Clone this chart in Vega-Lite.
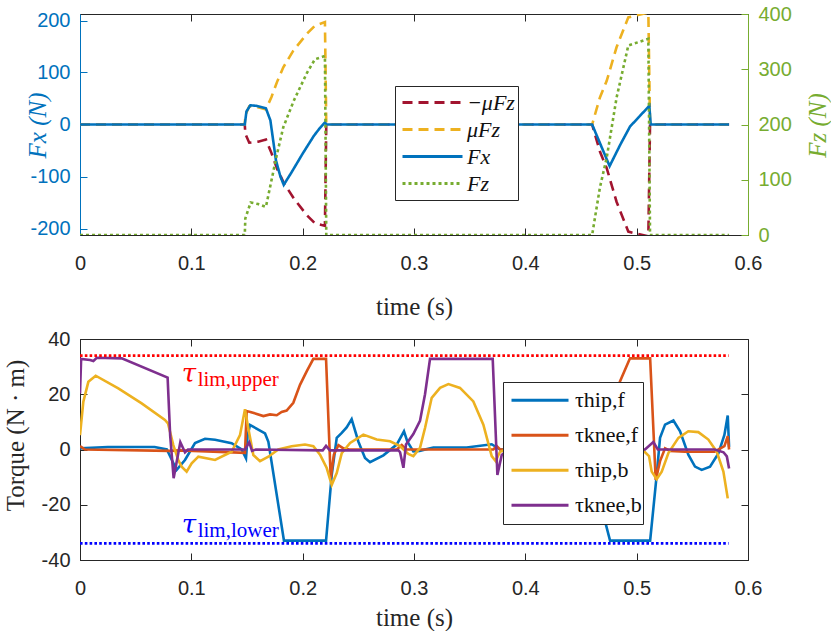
{
  "$schema": "https://vega.github.io/schema/vega-lite/v6.json",
  "padding": {"left": 2, "top": 3, "right": 1, "bottom": 0},
  "background": "white",
  "datasets": {
    "force": [
      {"t": 0, "s": "−μFz", "v": 0}, {"t": 0.148, "s": "−μFz", "v": 0}, {"t": 0.1485, "s": "−μFz", "v": -18},
      {"t": 0.152, "s": "−μFz", "v": -35}, {"t": 0.16, "s": "−μFz", "v": -33}, {"t": 0.167, "s": "−μFz", "v": -29},
      {"t": 0.172, "s": "−μFz", "v": -55}, {"t": 0.177, "s": "−μFz", "v": -85}, {"t": 0.183, "s": "−μFz", "v": -112},
      {"t": 0.192, "s": "−μFz", "v": -142}, {"t": 0.2036, "s": "−μFz", "v": -174}, {"t": 0.211, "s": "−μFz", "v": -190},
      {"t": 0.22, "s": "−μFz", "v": -195}, {"t": 0.2212, "s": "−μFz", "v": 0}, {"t": 0.46, "s": "−μFz", "v": 0},
      {"t": 0.467, "s": "−μFz", "v": -52}, {"t": 0.4731, "s": "−μFz", "v": -84}, {"t": 0.482, "s": "−μFz", "v": -149},
      {"t": 0.4925, "s": "−μFz", "v": -206}, {"t": 0.5, "s": "−μFz", "v": -210}, {"t": 0.5105, "s": "−μFz", "v": -215},
      {"t": 0.512, "s": "−μFz", "v": 0}, {"t": 0.583, "s": "−μFz", "v": 0},

      {"t": 0, "s": "μFz", "v": 0}, {"t": 0.148, "s": "μFz", "v": 0}, {"t": 0.1485, "s": "μFz", "v": 18},
      {"t": 0.152, "s": "μFz", "v": 35}, {"t": 0.16, "s": "μFz", "v": 33}, {"t": 0.167, "s": "μFz", "v": 29},
      {"t": 0.172, "s": "μFz", "v": 53}, {"t": 0.177, "s": "μFz", "v": 82}, {"t": 0.1826, "s": "μFz", "v": 110},
      {"t": 0.1916, "s": "μFz", "v": 142}, {"t": 0.2036, "s": "μFz", "v": 174}, {"t": 0.211, "s": "μFz", "v": 190},
      {"t": 0.22, "s": "μFz", "v": 197}, {"t": 0.2212, "s": "μFz", "v": 0}, {"t": 0.46, "s": "μFz", "v": 0},
      {"t": 0.467, "s": "μFz", "v": 52}, {"t": 0.4731, "s": "μFz", "v": 84}, {"t": 0.482, "s": "μFz", "v": 149},
      {"t": 0.4925, "s": "μFz", "v": 206}, {"t": 0.5, "s": "μFz", "v": 210}, {"t": 0.5105, "s": "μFz", "v": 215},
      {"t": 0.512, "s": "μFz", "v": 0}, {"t": 0.583, "s": "μFz", "v": 0},

      {"t": 0, "s": "Fx", "v": 0}, {"t": 0.148, "s": "Fx", "v": 0}, {"t": 0.1495, "s": "Fx", "v": 25},
      {"t": 0.153, "s": "Fx", "v": 37}, {"t": 0.158, "s": "Fx", "v": 36}, {"t": 0.167, "s": "Fx", "v": 31},
      {"t": 0.171, "s": "Fx", "v": 8}, {"t": 0.176, "s": "Fx", "v": -69}, {"t": 0.18, "s": "Fx", "v": -100},
      {"t": 0.183, "s": "Fx", "v": -116}, {"t": 0.19, "s": "Fx", "v": -92}, {"t": 0.2, "s": "Fx", "v": -56},
      {"t": 0.21, "s": "Fx", "v": -22}, {"t": 0.215, "s": "Fx", "v": -8}, {"t": 0.22, "s": "Fx", "v": 4},
      {"t": 0.2215, "s": "Fx", "v": 0}, {"t": 0.46, "s": "Fx", "v": 0}, {"t": 0.4757, "s": "Fx", "v": -80},
      {"t": 0.485, "s": "Fx", "v": -40}, {"t": 0.494, "s": "Fx", "v": -4}, {"t": 0.5114, "s": "Fx", "v": 36},
      {"t": 0.5126, "s": "Fx", "v": 0}, {"t": 0.583, "s": "Fx", "v": 0},

      {"t": 0, "s": "Fz", "v": 0}, {"t": 0.148, "s": "Fz", "v": 0}, {"t": 0.1485, "s": "Fz", "v": 30},
      {"t": 0.1533, "s": "Fz", "v": 59}, {"t": 0.16, "s": "Fz", "v": 56}, {"t": 0.167, "s": "Fz", "v": 51},
      {"t": 0.177, "s": "Fz", "v": 147}, {"t": 0.1826, "s": "Fz", "v": 195}, {"t": 0.192, "s": "Fz", "v": 243},
      {"t": 0.204, "s": "Fz", "v": 294}, {"t": 0.211, "s": "Fz", "v": 318}, {"t": 0.22, "s": "Fz", "v": 324},
      {"t": 0.2212, "s": "Fz", "v": 0}, {"t": 0.46, "s": "Fz", "v": 0}, {"t": 0.467, "s": "Fz", "v": 86},
      {"t": 0.4731, "s": "Fz", "v": 140}, {"t": 0.482, "s": "Fz", "v": 249}, {"t": 0.4925, "s": "Fz", "v": 343},
      {"t": 0.5105, "s": "Fz", "v": 355}, {"t": 0.512, "s": "Fz", "v": 0}, {"t": 0.583, "s": "Fz", "v": 0}
    ],
    "torque": [
      {"t": 0, "s": "τhip,f", "v": 0.4}, {"t": 0.025, "s": "τhip,f", "v": 0.9}, {"t": 0.067, "s": "τhip,f", "v": 0.9},
      {"t": 0.078, "s": "τhip,f", "v": 0}, {"t": 0.0868, "s": "τhip,f", "v": -7.4}, {"t": 0.0943, "s": "τhip,f", "v": -3.8},
      {"t": 0.1033, "s": "τhip,f", "v": 2.3}, {"t": 0.1123, "s": "τhip,f", "v": 3.9}, {"t": 0.1213, "s": "τhip,f", "v": 3.5},
      {"t": 0.1362, "s": "τhip,f", "v": 2.3}, {"t": 0.1452, "s": "τhip,f", "v": 0}, {"t": 0.1491, "s": "τhip,f", "v": -3.2},
      {"t": 0.1505, "s": "τhip,f", "v": 5}, {"t": 0.1527, "s": "τhip,f", "v": 8.9}, {"t": 0.1662, "s": "τhip,f", "v": 5.8},
      {"t": 0.1692, "s": "τhip,f", "v": 2.8}, {"t": 0.1832, "s": "τhip,f", "v": -33}, {"t": 0.221, "s": "τhip,f", "v": -33},
      {"t": 0.2261, "s": "τhip,f", "v": -9.2}, {"t": 0.2306, "s": "τhip,f", "v": 4.2}, {"t": 0.2351, "s": "τhip,f", "v": 6},
      {"t": 0.2395, "s": "τhip,f", "v": 8}, {"t": 0.244, "s": "τhip,f", "v": 11}, {"t": 0.25, "s": "τhip,f", "v": 2.9},
      {"t": 0.256, "s": "τhip,f", "v": -3.1}, {"t": 0.2605, "s": "τhip,f", "v": -4.6}, {"t": 0.2725, "s": "τhip,f", "v": -2.1},
      {"t": 0.2845, "s": "τhip,f", "v": 1.8}, {"t": 0.291, "s": "τhip,f", "v": 6.6}, {"t": 0.294, "s": "τhip,f", "v": 2.9},
      {"t": 0.2994, "s": "τhip,f", "v": -0.7}, {"t": 0.305, "s": "τhip,f", "v": -0.5}, {"t": 0.3174, "s": "τhip,f", "v": 0.7},
      {"t": 0.3473, "s": "τhip,f", "v": 0.7}, {"t": 0.3698, "s": "τhip,f", "v": 1.9}, {"t": 0.3773, "s": "τhip,f", "v": 0},
      {"t": 0.4, "s": "τhip,f", "v": 0}, {"t": 0.44, "s": "τhip,f", "v": 0.5}, {"t": 0.458, "s": "τhip,f", "v": 1},
      {"t": 0.464, "s": "τhip,f", "v": -6}, {"t": 0.4716, "s": "τhip,f", "v": -26}, {"t": 0.4761, "s": "τhip,f", "v": -33},
      {"t": 0.5121, "s": "τhip,f", "v": -33}, {"t": 0.518, "s": "τhip,f", "v": -9.2}, {"t": 0.521, "s": "τhip,f", "v": 4.2},
      {"t": 0.5255, "s": "τhip,f", "v": 9}, {"t": 0.533, "s": "τhip,f", "v": 10.5}, {"t": 0.539, "s": "τhip,f", "v": 6.6},
      {"t": 0.5464, "s": "τhip,f", "v": -1.9}, {"t": 0.5524, "s": "τhip,f", "v": -6.2}, {"t": 0.5584, "s": "τhip,f", "v": -7.4},
      {"t": 0.5659, "s": "τhip,f", "v": -6.2}, {"t": 0.5734, "s": "τhip,f", "v": -1.4}, {"t": 0.5788, "s": "τhip,f", "v": 5.3},
      {"t": 0.5818, "s": "τhip,f", "v": 12.3}, {"t": 0.583, "s": "τhip,f", "v": 1},

      {"t": 0, "s": "τknee,f", "v": 1.2}, {"t": 0.0045, "s": "τknee,f", "v": 0}, {"t": 0.08, "s": "τknee,f", "v": -0.5},
      {"t": 0.09, "s": "τknee,f", "v": -0.3}, {"t": 0.1482, "s": "τknee,f", "v": -1.2}, {"t": 0.1497, "s": "τknee,f", "v": 13.9},
      {"t": 0.153, "s": "τknee,f", "v": 13.6}, {"t": 0.1647, "s": "τknee,f", "v": 12.1}, {"t": 0.1707, "s": "τknee,f", "v": 12.7},
      {"t": 0.1767, "s": "τknee,f", "v": 12.4}, {"t": 0.1811, "s": "τknee,f", "v": 13.6}, {"t": 0.1856, "s": "τknee,f", "v": 14.1},
      {"t": 0.1916, "s": "τknee,f", "v": 16.9}, {"t": 0.1976, "s": "τknee,f", "v": 23.4}, {"t": 0.2036, "s": "τknee,f", "v": 28.3},
      {"t": 0.2096, "s": "τknee,f", "v": 32.8}, {"t": 0.221, "s": "τknee,f", "v": 32.8}, {"t": 0.2252, "s": "τknee,f", "v": -10.4},
      {"t": 0.228, "s": "τknee,f", "v": -1.9}, {"t": 0.2321, "s": "τknee,f", "v": 1.6}, {"t": 0.2366, "s": "τknee,f", "v": 0.4},
      {"t": 0.242, "s": "τknee,f", "v": 0}, {"t": 0.2845, "s": "τknee,f", "v": 0}, {"t": 0.289, "s": "τknee,f", "v": 1.6},
      {"t": 0.293, "s": "τknee,f", "v": 0}, {"t": 0.3713, "s": "τknee,f", "v": 0}, {"t": 0.3743, "s": "τknee,f", "v": 1.2},
      {"t": 0.3773, "s": "τknee,f", "v": 0}, {"t": 0.46, "s": "τknee,f", "v": 0}, {"t": 0.4605, "s": "τknee,f", "v": 13},
      {"t": 0.47, "s": "τknee,f", "v": 12.5}, {"t": 0.477, "s": "τknee,f", "v": 15}, {"t": 0.485, "s": "τknee,f", "v": 24.6},
      {"t": 0.494, "s": "τknee,f", "v": 33}, {"t": 0.5121, "s": "τknee,f", "v": 33}, {"t": 0.5171, "s": "τknee,f", "v": -11},
      {"t": 0.521, "s": "τknee,f", "v": -4.2}, {"t": 0.5255, "s": "τknee,f", "v": 0.4}, {"t": 0.53, "s": "τknee,f", "v": -0.5},
      {"t": 0.5434, "s": "τknee,f", "v": -0.8}, {"t": 0.57, "s": "τknee,f", "v": -0.8}, {"t": 0.5788, "s": "τknee,f", "v": 1.2},
      {"t": 0.5818, "s": "τknee,f", "v": 4.8}, {"t": 0.583, "s": "τknee,f", "v": 0},

      {"t": 0, "s": "τhip,b", "v": 5.2}, {"t": 0.003, "s": "τhip,b", "v": 17.3}, {"t": 0.0075, "s": "τhip,b", "v": 24.5},
      {"t": 0.0141, "s": "τhip,b", "v": 26.7}, {"t": 0.0344, "s": "τhip,b", "v": 22.1}, {"t": 0.0554, "s": "τhip,b", "v": 16.7},
      {"t": 0.0763, "s": "τhip,b", "v": 10.7}, {"t": 0.079, "s": "τhip,b", "v": 9.5}, {"t": 0.0838, "s": "τhip,b", "v": 1.6},
      {"t": 0.0883, "s": "τhip,b", "v": -3.8}, {"t": 0.0913, "s": "τhip,b", "v": -6.2}, {"t": 0.0958, "s": "τhip,b", "v": -8},
      {"t": 0.1003, "s": "τhip,b", "v": -5}, {"t": 0.1063, "s": "τhip,b", "v": -2.6}, {"t": 0.1213, "s": "τhip,b", "v": -3.8},
      {"t": 0.1362, "s": "τhip,b", "v": -0.8}, {"t": 0.1437, "s": "τhip,b", "v": 5.2}, {"t": 0.1482, "s": "τhip,b", "v": 14.6},
      {"t": 0.1512, "s": "τhip,b", "v": 7.6}, {"t": 0.1557, "s": "τhip,b", "v": -2}, {"t": 0.1617, "s": "τhip,b", "v": -4.2},
      {"t": 0.1692, "s": "τhip,b", "v": -2.6}, {"t": 0.1781, "s": "τhip,b", "v": 0}, {"t": 0.1901, "s": "τhip,b", "v": 1.2},
      {"t": 0.2021, "s": "τhip,b", "v": 1.8}, {"t": 0.2096, "s": "τhip,b", "v": 1.2}, {"t": 0.2156, "s": "τhip,b", "v": -1.9},
      {"t": 0.2216, "s": "τhip,b", "v": -6.7}, {"t": 0.2261, "s": "τhip,b", "v": -12.8}, {"t": 0.2306, "s": "τhip,b", "v": -8.5},
      {"t": 0.2351, "s": "τhip,b", "v": -1.3}, {"t": 0.2426, "s": "τhip,b", "v": 2.4}, {"t": 0.2545, "s": "τhip,b", "v": 5.4},
      {"t": 0.2665, "s": "τhip,b", "v": 3.6}, {"t": 0.2785, "s": "τhip,b", "v": 3}, {"t": 0.2875, "s": "τhip,b", "v": 1.2},
      {"t": 0.2949, "s": "τhip,b", "v": -1.6}, {"t": 0.2994, "s": "τhip,b", "v": -2.4}, {"t": 0.3054, "s": "τhip,b", "v": 0.6},
      {"t": 0.3099, "s": "τhip,b", "v": 7.8}, {"t": 0.3159, "s": "τhip,b", "v": 18.7}, {"t": 0.3234, "s": "τhip,b", "v": 22.3},
      {"t": 0.3309, "s": "τhip,b", "v": 23.7}, {"t": 0.3413, "s": "τhip,b", "v": 22.3}, {"t": 0.3533, "s": "τhip,b", "v": 17.4},
      {"t": 0.3623, "s": "τhip,b", "v": 9}, {"t": 0.3698, "s": "τhip,b", "v": -2.4}, {"t": 0.3733, "s": "τhip,b", "v": -4.2},
      {"t": 0.3773, "s": "τhip,b", "v": -0.8}, {"t": 0.39, "s": "τhip,b", "v": 1}, {"t": 0.42, "s": "τhip,b", "v": 2},
      {"t": 0.46, "s": "τhip,b", "v": 1.5}, {"t": 0.49, "s": "τhip,b", "v": 1}, {"t": 0.505, "s": "τhip,b", "v": 0},
      {"t": 0.5111, "s": "τhip,b", "v": -2.4}, {"t": 0.5135, "s": "τhip,b", "v": -8}, {"t": 0.518, "s": "τhip,b", "v": -10.7},
      {"t": 0.5225, "s": "τhip,b", "v": -8}, {"t": 0.5285, "s": "τhip,b", "v": -1.3}, {"t": 0.5375, "s": "τhip,b", "v": 4.2},
      {"t": 0.5464, "s": "τhip,b", "v": 6.6}, {"t": 0.5554, "s": "τhip,b", "v": 6.3}, {"t": 0.5644, "s": "τhip,b", "v": 3.6},
      {"t": 0.5719, "s": "τhip,b", "v": -0.8}, {"t": 0.5779, "s": "τhip,b", "v": -8}, {"t": 0.5818, "s": "τhip,b", "v": -17.7},

      {"t": 0, "s": "τknee,b", "v": 20.3}, {"t": 0.001, "s": "τknee,b", "v": 32.8}, {"t": 0.009, "s": "τknee,b", "v": 32.4},
      {"t": 0.012, "s": "τknee,b", "v": 32}, {"t": 0.015, "s": "τknee,b", "v": 33.2}, {"t": 0.0375, "s": "τknee,b", "v": 33},
      {"t": 0.0787, "s": "τknee,b", "v": 26}, {"t": 0.081, "s": "τknee,b", "v": 5}, {"t": 0.0841, "s": "τknee,b", "v": -10.4},
      {"t": 0.0901, "s": "τknee,b", "v": 2.6}, {"t": 0.0943, "s": "τknee,b", "v": -1}, {"t": 0.097, "s": "τknee,b", "v": 0},
      {"t": 0.1482, "s": "τknee,b", "v": 0}, {"t": 0.152, "s": "τknee,b", "v": 2.6}, {"t": 0.1545, "s": "τknee,b", "v": -0.5},
      {"t": 0.158, "s": "τknee,b", "v": 0}, {"t": 0.218, "s": "τknee,b", "v": -0.3}, {"t": 0.221, "s": "τknee,b", "v": 1.3},
      {"t": 0.2245, "s": "τknee,b", "v": -0.3}, {"t": 0.286, "s": "τknee,b", "v": -0.3}, {"t": 0.2875, "s": "τknee,b", "v": -1},
      {"t": 0.2905, "s": "τknee,b", "v": -6.6}, {"t": 0.2928, "s": "τknee,b", "v": 1.8}, {"t": 0.2994, "s": "τknee,b", "v": 5.6},
      {"t": 0.3054, "s": "τknee,b", "v": 10.4}, {"t": 0.3099, "s": "τknee,b", "v": 20}, {"t": 0.3144, "s": "τknee,b", "v": 32.8},
      {"t": 0.3707, "s": "τknee,b", "v": 32.8}, {"t": 0.3749, "s": "τknee,b", "v": -9.2}, {"t": 0.3788, "s": "τknee,b", "v": -2},
      {"t": 0.385, "s": "τknee,b", "v": 0}, {"t": 0.5075, "s": "τknee,b", "v": 0}, {"t": 0.515, "s": "τknee,b", "v": 2.7},
      {"t": 0.519, "s": "τknee,b", "v": 0}, {"t": 0.57, "s": "τknee,b", "v": 0}, {"t": 0.578, "s": "τknee,b", "v": -1},
      {"t": 0.581, "s": "τknee,b", "v": -2.5}, {"t": 0.583, "s": "τknee,b", "v": -6.9}
    ],
    "limits": [
      {"kind": "upper", "t0": 0, "t1": 0.5825, "v": 34},
      {"kind": "lower", "t0": 0, "t1": 0.5825, "v": -34}
    ],
    "notes": [
      {"kind": "upper", "t": 0.0913, "v": 24.4, "sym": "τ", "sub": "lim,upper"},
      {"kind": "lower", "t": 0.0913, "v": -30.2, "sym": "τ", "sub": "lim,lower"}
    ]
  },
  "spacing": 8,
  "resolve": {
    "scale": {"color": "independent", "strokeDash": "independent"},
    "legend": {"color": "independent", "strokeDash": "independent"}
  },
  "vconcat": [
    {
      "width": 668,
      "height": 221,
      "data": {"name": "force"},
      "layer": [
        {
          "transform": [{"filter": "datum.s != 'Fz'"}],
          "mark": {"type": "line", "strokeWidth": 2.6, "clip": true},
          "encoding": {
            "x": {"field": "t", "type": "quantitative", "scale": {"domain": [0, 0.6], "nice": false},
              "axis": {"values": [0, 0.1, 0.2, 0.3, 0.4, 0.5, 0.6], "format": "~g", "title": "time (s)", "titleY": 71}},
            "y": {"field": "v", "type": "quantitative", "scale": {"domain": [-212.5, 212.5], "nice": false},
              "axis": {"values": [-200, -100, 0, 100, 200], "title": "Fx (N)", "titleFontStyle": "italic",
                "titleColor": "#0072BD", "labelColor": "#0072BD", "tickColor": "#0072BD", "domainColor": "#0072BD",
                "titleX": -43, "titleY": 111}},
            "color": {"field": "s", "type": "nominal",
              "scale": {"domain": ["−μFz", "μFz", "Fx", "Fz"], "range": ["#A2142F", "#EDB120", "#0072BD", "#77AC30"]},
              "legend": {"orient": "none", "legendX": 315, "legendY": 72, "title": null, "padding": 3, "symbolOffset": 3,
                "labelFontStyle": "italic", "labelFontSize": 22, "labelOffset": 3, "symbolSize": 3600, "clipHeight": 27, "rowPadding": 0}},
            "strokeDash": {"field": "s", "type": "nominal",
              "scale": {"domain": ["−μFz", "μFz", "Fx", "Fz"], "range": [[10, 6], [10, 6], [1, 0], [3, 3]]},
              "legend": {"orient": "none", "legendX": 315, "legendY": 72, "title": null, "padding": 3, "symbolOffset": 3,
                "labelFontStyle": "italic", "labelFontSize": 22, "labelOffset": 3, "symbolSize": 3600, "clipHeight": 27, "rowPadding": 0}}
          }
        },
        {
          "transform": [{"filter": "datum.s == 'Fz'"}],
          "mark": {"type": "line", "strokeWidth": 2.6, "clip": true},
          "encoding": {
            "x": {"field": "t", "type": "quantitative", "scale": {"domain": [0, 0.6], "nice": false},
              "axis": {"orient": "top", "values": [0, 0.1, 0.2, 0.3, 0.4, 0.5, 0.6], "labels": false, "title": null, "domain": false}},
            "y": {"field": "v", "type": "quantitative", "scale": {"domain": [0, 400], "nice": false},
              "axis": {"orient": "right", "values": [0, 100, 200, 300, 400], "title": "Fz (N)", "titleFontStyle": "italic",
                "titleColor": "#77AC30", "labelColor": "#77AC30", "tickColor": "#77AC30", "domainColor": "#77AC30",
                "titleAngle": 270, "titleX": 69, "titleY": 111}},
            "color": {"field": "s", "type": "nominal"},
            "strokeDash": {"field": "s", "type": "nominal"}
          }
        }
      ],
      "resolve": {"scale": {"y": "independent"}, "axis": {"x": "independent"}}
    },
    {
      "width": 668,
      "height": 221,
      "layer": [
        {
          "data": {"name": "torque"},
          "mark": {"type": "line", "strokeWidth": 2.6, "clip": true},
          "encoding": {
            "x": {"field": "t", "type": "quantitative", "scale": {"domain": [0, 0.6], "nice": false},
              "axis": {"values": [0, 0.1, 0.2, 0.3, 0.4, 0.5, 0.6], "format": "~g", "title": "time (s)", "titleY": 57}},
            "y": {"field": "v", "type": "quantitative", "scale": {"domain": [-40, 40], "nice": false},
              "axis": {"values": [-40, -20, 0, 20, 40], "title": "Torque (N · m)", "titleX": -65, "titleY": 96}},
            "color": {"field": "s", "type": "nominal",
              "scale": {"domain": ["τhip,f", "τknee,f", "τhip,b", "τknee,b"], "range": ["#0072BD", "#D95319", "#EDB120", "#7E2F8E"]},
              "legend": {"orient": "none", "legendX": 423, "legendY": 43, "title": null, "padding": 1, "symbolOffset": 6,
                "labelFontSize": 22, "labelOffset": 5, "symbolSize": 3249, "clipHeight": 34.5, "rowPadding": 0}}
          }
        },
        {
          "data": {"name": "limits"},
          "transform": [{"filter": "datum.kind == 'upper'"}],
          "mark": {"type": "rule", "color": "#FF0000", "strokeWidth": 2.6, "strokeDash": [2.6, 2.2]},
          "encoding": {
            "x": {"field": "t0", "type": "quantitative", "scale": {"domain": [0, 0.6], "nice": false},
              "axis": {"orient": "top", "values": [0, 0.1, 0.2, 0.3, 0.4, 0.5, 0.6], "labels": false, "title": null, "domain": false}},
            "x2": {"field": "t1"},
            "y": {"field": "v", "type": "quantitative", "scale": {"domain": [-40, 40], "nice": false},
              "axis": {"orient": "right", "values": [-40, -20, 0, 20, 40], "labels": false, "title": null, "domain": false}}
          }
        },
        {
          "data": {"name": "limits"},
          "transform": [{"filter": "datum.kind == 'lower'"}],
          "mark": {"type": "rule", "color": "#0000FF", "strokeWidth": 2.6, "strokeDash": [2.6, 2.2]},
          "encoding": {
            "x": {"field": "t0", "type": "quantitative", "axis": null},
            "x2": {"field": "t1"},
            "y": {"field": "v", "type": "quantitative", "axis": null}
          }
        },
        {
          "data": {"name": "notes"},
          "mark": {"type": "text", "align": "left", "baseline": "alphabetic", "font": "DejaVu Serif", "fontStyle": "italic", "fontSize": 26},
          "encoding": {
            "x": {"field": "t", "type": "quantitative", "axis": null},
            "y": {"field": "v", "type": "quantitative", "axis": null},
            "text": {"field": "sym"},
            "fill": {"condition": {"test": "datum.kind == 'upper'", "value": "#FF0000"}, "value": "#0000FF"}
          }
        },
        {
          "data": {"name": "notes"},
          "mark": {"type": "text", "align": "left", "baseline": "alphabetic", "font": "Liberation Serif", "fontSize": 21, "dx": 16, "dy": 4},
          "encoding": {
            "x": {"field": "t", "type": "quantitative", "axis": null},
            "y": {"field": "v", "type": "quantitative", "axis": null},
            "text": {"field": "sub"},
            "fill": {"condition": {"test": "datum.kind == 'upper'", "value": "#FF0000"}, "value": "#0000FF"}
          }
        }
      ],
      "resolve": {"axis": {"x": "independent", "y": "independent"}}
    }
  ],
  "config": {
    "view": {"stroke": "#262626", "strokeWidth": 1},
    "axis": {
      "labelFont": "Liberation Sans", "labelFontSize": 20, "labelColor": "#262626",
      "labelExpr": "replace(datum.label, '−', '-')", "labelFlush": false, "labelOverlap": false,
      "titleFont": "Liberation Serif", "titleFontSize": 25, "titleFontWeight": "normal", "titleColor": "#262626",
      "titleBaseline": "middle",
      "tickColor": "#262626", "domainColor": "#262626", "tickSize": -7,
      "grid": false
    },
    "axisX": {"labelPadding": 25},
    "axisY": {"labelPadding": 17},
    "legend": {
      "fillColor": "white", "strokeColor": "#262626",
      "symbolType": "stroke", "symbolStrokeWidth": 3, "labelFont": "Liberation Serif",
      "labelColor": "#111111", "labelOffset": 4, "labelLimit": 200
    }
  }
}
